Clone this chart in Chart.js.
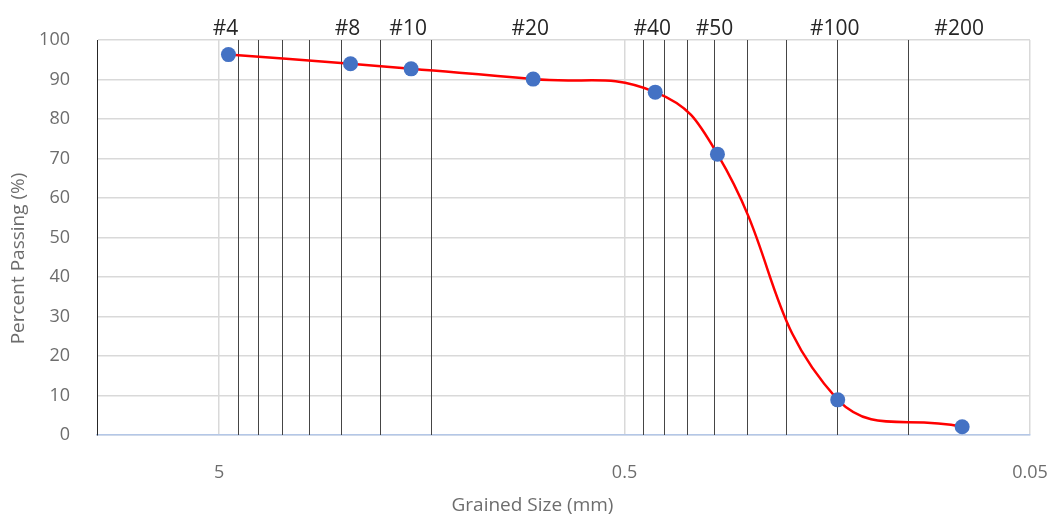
<!DOCTYPE html>
<html>
<head>
<meta charset="utf-8">
<script src="https://cdn.jsdelivr.net/npm/chart.js@4/dist/chart.umd.min.js"></script>
<style>
  html, body { margin: 0; padding: 0; background: #ffffff; }
  #wrap { width: 1050px; height: 520px; position: relative; }
</style>
</head>
<body>
<div id="wrap"><canvas id="chart_grading"></canvas></div>
<script>
// sieve analysis values
const sieveNames = ['#4', '#8', '#10', '#20', '#40', '#50', '#100', '#200'];
const grainSizes = [4.74, 2.37, 1.68, 0.84, 0.42, 0.295, 0.149, 0.0735];
const percentPassing = [96.3, 94.0, 92.7, 90.1, 86.8, 71.1, 8.9, 2.1];

// the dark vertical reference lines (mm)
const referenceSizes = [4.5, 4, 3.5, 3, 2.5, 2, 1.5, 0.45, 0.4, 0.35, 0.3, 0.25, 0.2, 0.15, 0.1];

const xTickValues = [5, 0.5, 0.05];
const xMin = 0.05;
const xMax = 10;

const xTitle = 'Grained Size (mm)';
const yTitle = 'Percent Passing (%)';

const fontFamily = "'Open Sans', 'Noto Sans', sans-serif";
const textGray = '#6d6d6d';

const referenceLinesPlugin = {
  id: 'referenceLines',
  beforeDatasetsDraw: chart => {
    const x = chart.scales.x;
    const area = chart.chartArea;
    const ctx = chart.ctx;
    ctx.save();
    ctx.lineWidth = 1;
    ctx.strokeStyle = '#454545';
    for (const v of referenceSizes) {
      const px = Math.round(x.getPixelForValue(v)) + 0.5;
      ctx.beginPath();
      ctx.moveTo(px, area.top);
      ctx.lineTo(px, area.bottom);
      ctx.stroke();
    }
    ctx.restore();
  }
};

const sieveLabelPlugin = {
  id: 'sieveLabels',
  afterDatasetsDraw: chart => {
    const x = chart.scales.x;
    const ctx = chart.ctx;
    ctx.save();
    ctx.font = '21px ' + fontFamily;
    ctx.fillStyle = '#262626';
    ctx.textAlign = 'center';
    ctx.textBaseline = 'alphabetic';
    sieveNames.forEach((name, i) => {
      ctx.fillText(name, x.getPixelForValue(grainSizes[i]) - 3, 35);
    });
    ctx.restore();
  }
};

// Excel put the axis titles a bit off-centre, so draw them by hand
const axisTitlePlugin = {
  id: 'axisTitles',
  afterDraw: chart => {
    const area = chart.chartArea;
    const ctx = chart.ctx;
    ctx.save();
    ctx.font = '19px ' + fontFamily;
    ctx.fillStyle = textGray;
    ctx.textAlign = 'center';
    ctx.textBaseline = 'middle';
    ctx.fillText(xTitle, (area.left + area.right) / 2 - 31, chart.height - 14);
    ctx.translate(19, (area.top + area.bottom) / 2 + 21);
    ctx.rotate(-Math.PI / 2);
    ctx.fillText(yTitle, 0, 0);
    ctx.restore();
  }
};

const el = document.getElementById('chart_grading');
new Chart(el, {
  type: 'line',
  data: {
    datasets: [{
      label: 'Percent Passing',
      data: grainSizes.map((s, i) => ({ x: s, y: percentPassing[i] })),
      borderColor: '#ff0000',
      borderWidth: 2.5,
      backgroundColor: '#4472c4',
      pointBackgroundColor: '#4472c4',
      pointBorderColor: '#4472c4',
      pointBorderWidth: 0,
      pointRadius: 7.5,
      tension: 0.45,
      fill: false
    }]
  },
  options: {
    responsive: true,
    maintainAspectRatio: false,
    animation: false,
    layout: { padding: { top: 40, right: 20, left: 0, bottom: 0 } },
    scales: {
      x: {
        type: 'logarithmic',
        reverse: true,
        min: xMin,
        max: xMax,
        afterBuildTicks: scale => {
          scale.ticks = xTickValues.map(v => ({ value: v }));
        },
        afterFit: scale => {
          scale.height = 85;
          scale.paddingLeft = 0;
          scale.paddingRight = 0;
        },
        ticks: {
          color: textGray,
          padding: 27,
          maxRotation: 0,
          autoSkip: false,
          font: { size: 18, family: fontFamily },
          callback: v => String(v)
        },
        grid: { color: '#d9d9d9', lineWidth: 1.5, drawTicks: false },
        border: { display: true, color: '#b4c7e7', width: 1.5 },
        title: { display: false }
      },
      y: {
        min: 0,
        max: 100,
        afterFit: scale => { scale.width = 97; },
        ticks: {
          stepSize: 10,
          color: textGray,
          padding: 27,
          font: { size: 18, family: fontFamily }
        },
        grid: { color: '#d9d9d9', lineWidth: 1.5, drawTicks: false },
        border: { display: true, color: '#262626', width: 1 },
        title: { display: false }
      }
    },
    plugins: {
      legend: { display: false },
      tooltip: { enabled: false }
    }
  },
  plugins: [referenceLinesPlugin, sieveLabelPlugin, axisTitlePlugin]
});
</script>
</body>
</html>
